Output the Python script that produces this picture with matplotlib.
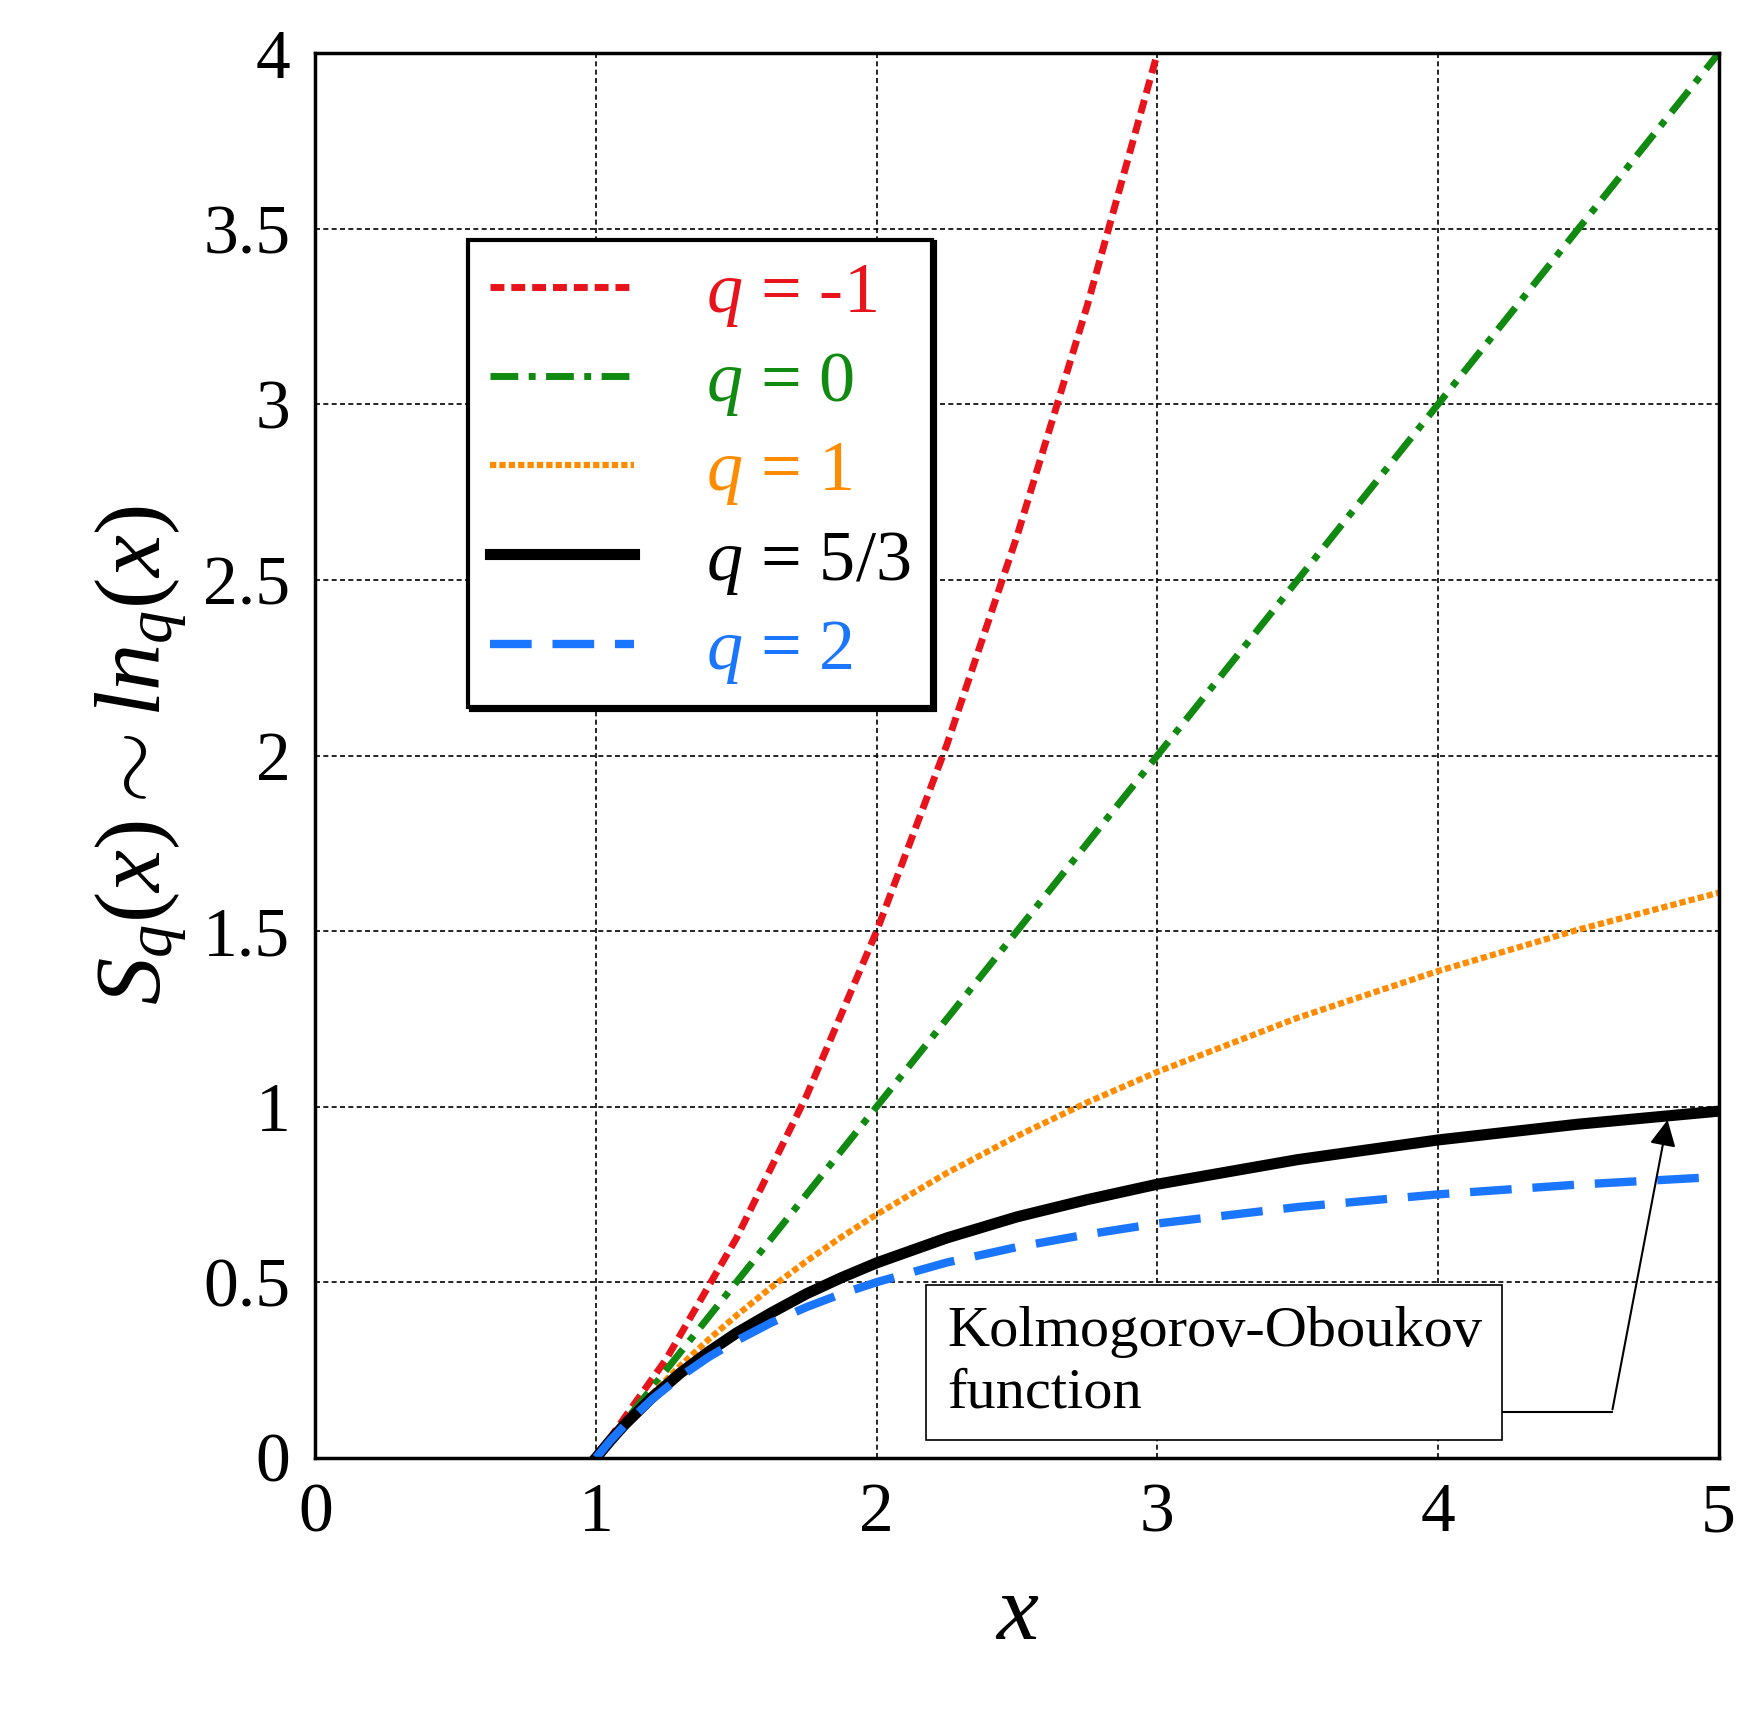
import matplotlib
matplotlib.use("Agg")
import matplotlib.pyplot as plt

x_m1 = [1, 1.25, 1.5, 1.75, 2, 2.25, 2.5, 2.75, 3]
y_m1 = [0, 0.281, 0.625, 1.031, 1.5, 2.031, 2.625, 3.281, 4]
x_0 = [1, 2, 3, 4, 5]
y_0 = [0, 1, 2, 3, 4]
x_c = [1, 1.05, 1.1, 1.2, 1.3, 1.4, 1.5, 1.625, 1.75, 1.875, 2, 2.25, 2.5, 2.75, 3, 3.5, 4, 4.5, 5]
y_1 = [0, 0.049, 0.095, 0.182, 0.262, 0.336, 0.405, 0.486, 0.560, 0.629, 0.693, 0.811, 0.916, 1.012, 1.099, 1.253, 1.386, 1.504, 1.609]
y_53 = [0, 0.048, 0.093, 0.172, 0.241, 0.301, 0.355, 0.413, 0.467, 0.513, 0.555, 0.626, 0.686, 0.735, 0.779, 0.849, 0.905, 0.950, 0.987]
y_2 = [0, 0.048, 0.091, 0.167, 0.231, 0.286, 0.333, 0.385, 0.429, 0.467, 0.500, 0.556, 0.600, 0.636, 0.667, 0.714, 0.750, 0.778, 0.800]

plt.rcParams['font.family'] = ['Liberation Serif', 'DejaVu Serif']
plt.rcParams['mathtext.fontset'] = 'custom'
plt.rcParams['mathtext.rm'] = 'Liberation Serif'
plt.rcParams['mathtext.it'] = 'Liberation Serif:italic'

fig = plt.figure(figsize=(17.43, 17.19), dpi=100)
ax = fig.add_axes([0.181, 0.152, 0.805, 0.817])

ax.plot(x_m1, y_m1, color='#e8141c', lw=5, ls=(0, (2, 1)), label='$q$ = -1')
ax.plot(x_0, y_0, color='#118a11', lw=5, ls=(0, (4, 1.5, 1, 1.5)), label='$q$ = 0')
ax.plot(x_c, y_1, color='#ff8c00', lw=4.5, ls=(0, (1, 0.5)), label='$q$ = 1')
ax.plot(x_c, y_53, color='black', lw=8, label='$q$ = 5/3')
ax.plot(x_c, y_2, color='#1a75ff', lw=6, ls=(0, (5, 2.5)), label='$q$ = 2')

ax.set_xlim(0, 5)
ax.set_ylim(0, 4)
ax.set_xticks([0, 1, 2, 3, 4, 5])
ax.set_yticks([0, 0.5, 1, 1.5, 2, 2.5, 3, 3.5, 4])
ax.set_yticklabels(['0', '0.5', '1', '1.5', '2', '2.5', '3', '3.5', '4'])
ax.tick_params(labelsize=50, length=0, pad=18)
ax.grid(True, color='black', ls=(0, (3, 2)), lw=1.2)
for s in ax.spines.values():
    s.set_linewidth(2.5)

ax.set_xlabel('$x$', fontsize=68, labelpad=20)
ax.set_ylabel('$S_q(x) \\sim ln_q(x)$', fontsize=68, labelpad=10)

leg = ax.legend(loc='upper left', bbox_to_anchor=(0.083, 0.893), fontsize=52,
                frameon=True, fancybox=False, shadow={'color': 'black', 'alpha': 1},
                handlelength=2.0, handletextpad=1.0, borderpad=0.3, labelspacing=0.3)
leg.get_frame().set_edgecolor('black')
leg.get_frame().set_linewidth(3)
for t, c in zip(leg.get_texts(), ['#e8141c', '#118a11', '#ff8c00', 'black', '#1a75ff']):
    t.set_color(c)

ax.text(2.25, 0.27, 'Kolmogorov-Oboukov\nfunction', fontsize=42, ha='left', va='center',
        linespacing=1.25,
        bbox=dict(boxstyle='square,pad=0.35', fc='white', ec='black', lw=1.2))
ax.plot([3.2, 4.62], [0.13, 0.13], color='black', lw=1.5)
ax.annotate('', xy=(4.82, 0.97), xytext=(4.62, 0.13),
            arrowprops=dict(arrowstyle='-|>', color='black', lw=1.5, mutation_scale=40))

fig.savefig('out.png', dpi=100)
